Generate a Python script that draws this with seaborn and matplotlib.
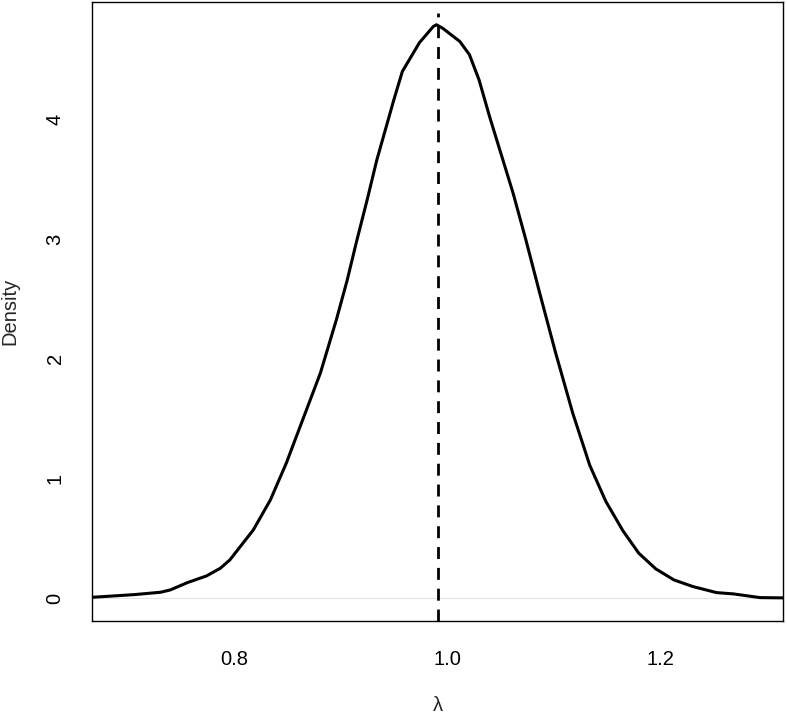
"""
Posterior density of lambda with the mode marked by a dashed vertical line.
"""

import numpy as np
import pandas as pd
import matplotlib
matplotlib.use("Agg")
import matplotlib.pyplot as plt
import seaborn as sns

# density curve
lam = [0.667, 0.706, 0.731, 0.740, 0.756, 0.774, 0.787, 0.796,
       0.818, 0.834, 0.849, 0.862, 0.881, 0.896, 0.906, 0.915, 0.925, 0.934,
       0.950, 0.958, 0.974, 0.987, 0.990, 0.996,
       1.012, 1.021, 1.030, 1.040,
       1.062, 1.074, 1.087, 1.102, 1.118, 1.134, 1.149, 1.165, 1.180, 1.196,
       1.213, 1.231, 1.253, 1.269, 1.294, 1.316]
density = [0.008, 0.030, 0.050, 0.069, 0.130, 0.186, 0.250, 0.320,
           0.570, 0.820, 1.128, 1.434, 1.880, 2.325, 2.650, 2.980, 3.330, 3.660,
           4.163, 4.400, 4.640, 4.775, 4.790, 4.760,
           4.650, 4.540, 4.330, 4.020,
           3.383, 2.993, 2.548, 2.047, 1.546, 1.110, 0.810, 0.565, 0.376, 0.245,
           0.153, 0.097, 0.047, 0.036, 0.005, 0.003]

mode_lam = 0.991
mode_line_top = 4.89

x_ticks = [0.8, 1.0, 1.2]
x_tick_labels = ["0.8", "1.0", "1.2"]
y_ticks = [0, 1, 2, 3, 4]
y_tick_labels = ["0", "1", "2", "3", "4"]

sns.set_style("white")
plt.rcParams["font.family"] = ["Liberation Sans", "DejaVu Sans"]
plt.rcParams["font.size"] = 14.5

df = pd.DataFrame({"lam": lam, "density": density})

fig = plt.figure(figsize=(7.87, 7.15), dpi=100)
ax = fig.add_axes([0.1175, 0.1315, 0.8775, 0.8657])

# faint zero line like R's plot.density
ax.axhline(0, color="#e4e4e4", linewidth=0.8, zorder=1)

sns.lineplot(data=df, x="lam", y="density", color="black", linewidth=2.2, ax=ax, zorder=3)

ymin, ymax = -0.19, 4.98
ax.set_xlim(0.667, 1.3155)
ax.set_ylim(ymin, ymax)
ax.axvline(mode_lam, ymin=0, ymax=(mode_line_top - ymin) / (ymax - ymin),
           color="black", linewidth=2, dashes=(4.3, 3.2), zorder=2)

ax.set_xticks(x_ticks)
ax.set_xticklabels(x_tick_labels)
ax.set_yticks(y_ticks)
ax.set_yticklabels(y_tick_labels, rotation=90, va="center")
ax.tick_params(axis="both", direction="out", length=8.6, width=1, color="black",
               labelsize=14.5, labelcolor="black")
ax.tick_params(axis="x", pad=12.5)
ax.tick_params(axis="y", pad=11.5)

for side in ["top", "bottom", "left", "right"]:
    ax.spines[side].set_visible(True)
    ax.spines[side].set_color("black")
    ax.spines[side].set_linewidth(1)

ax.set_xlabel("λ", fontsize=14.5)
ax.set_ylabel("Density", fontsize=14.5)
ax.xaxis.set_label_coords(0.5, -0.121)
ax.yaxis.set_label_coords(-0.106, 0.5)

plt.savefig("out.png", dpi=100)
plt.close()
